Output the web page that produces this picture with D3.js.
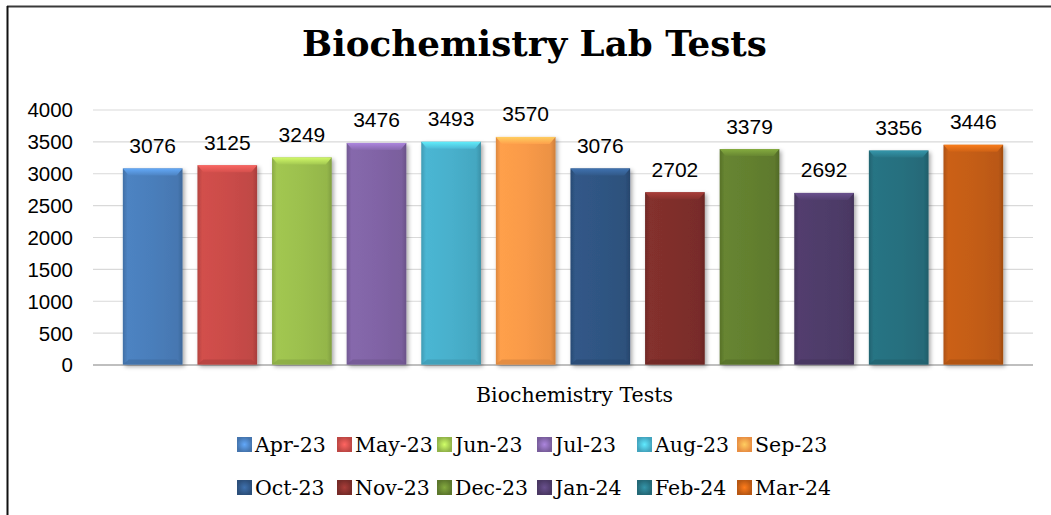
<!DOCTYPE html>
<html><head><meta charset="utf-8">
<script src="https://cdn.jsdelivr.net/npm/d3@7"></script>
<style>html,body{margin:0;padding:0;background:#fff;}svg{display:block;}</style>
</head><body>
<svg id="chart" width="1051" height="515"></svg>
<script>
const categories = ["Biochemistry Tests"];
const months = ["Apr-23","May-23","Jun-23","Jul-23","Aug-23","Sep-23","Oct-23","Nov-23","Dec-23","Jan-24","Feb-24","Mar-24"];
const values = [3076,3125,3249,3476,3493,3570,3076,2702,3379,2692,3356,3446];
const colors = ["#4a7ebb","#cb4c49","#9cc04e","#8164a6","#48b0cc","#f99a48","#2f5583","#7f2e2b","#63802f","#4f3c6a","#27707f","#c45d14"];
const yTicks = [0,500,1000,1500,2000,2500,3000,3500,4000];
const title = "Biochemistry Lab Tests";

const svg = d3.select("#chart");
const W = 1051, H = 515;
const plot = {left: 93, right: 1033, top: 109.5, bottom: 364.5};

const defs = svg.append("defs");
const f = defs.append("filter").attr("id","shadow").attr("x","-20%").attr("y","-20%").attr("width","140%").attr("height","140%");
f.append("feDropShadow").attr("dx",2).attr("dy",2).attr("stdDeviation",2.2).attr("flood-color","#000").attr("flood-opacity",0.35);

colors.forEach((c,i)=>{
  const base = d3.color(c);
  const g = defs.append("linearGradient").attr("id","g"+i).attr("x1","0").attr("x2","1").attr("y1","0").attr("y2","0");
  g.append("stop").attr("offset","0%").attr("stop-color", base.darker(0.35));
  g.append("stop").attr("offset","8%").attr("stop-color", base.brighter(0.1));
  g.append("stop").attr("offset","50%").attr("stop-color", base);
  g.append("stop").attr("offset","92%").attr("stop-color", base.darker(0.15));
  g.append("stop").attr("offset","100%").attr("stop-color", base.darker(0.55));
  const t = defs.append("linearGradient").attr("id","t"+i).attr("x1","0").attr("x2","0").attr("y1","0").attr("y2","1");
  t.append("stop").attr("offset","0%").attr("stop-color", base.brighter(0.9));
  t.append("stop").attr("offset","100%").attr("stop-color", base.brighter(0.15));
  const s = defs.append("radialGradient").attr("id","s"+i);
  s.append("stop").attr("offset","0%").attr("stop-color", base.brighter(0.8));
  s.append("stop").attr("offset","100%").attr("stop-color", base.darker(0.2));
});

svg.append("rect").attr("width",W).attr("height",H).attr("fill","#fff");
// frame
svg.append("line").attr("x1",7).attr("x2",W).attr("y1",6.5).attr("y2",6.5).attr("stroke","#3a3a3a").attr("stroke-width",2);
svg.append("line").attr("x1",7.5).attr("x2",7.5).attr("y1",6).attr("y2",H).attr("stroke","#111").attr("stroke-width",2);

// title
const tt = svg.append("text").attr("x",534.5).attr("y",56).attr("text-anchor","middle")
  .attr("font-family","DejaVu Serif").attr("font-weight","bold").attr("font-size",30).attr("fill","#000").text(title);
const tl = tt.node().getComputedTextLength();
tt.attr("font-size", 30*465/tl);

const y = d3.scaleLinear().domain([0,4000]).range([plot.bottom, plot.top]);
const x0 = d3.scaleBand().domain(categories).range([plot.left, plot.right]).paddingOuter(0.025).paddingInner(0);
const x1 = d3.scaleBand().domain(months).range([0, x0.bandwidth()]).paddingInner(0.2).paddingOuter(0.1);

// grid
const yAxis = d3.axisLeft(y).tickValues(yTicks).tickSize(-(plot.right-plot.left)).tickFormat(d3.format("d")).tickPadding(20);
const ga = svg.append("g").attr("transform",`translate(${plot.left},0)`).call(yAxis);
ga.select(".domain").remove();
ga.selectAll(".tick line").attr("stroke","#d9d9d9").attr("stroke-width",1.2);
ga.selectAll(".tick text").attr("font-family","Liberation Sans, Arial").attr("font-size",20.5).attr("fill","#000").attr("dy","0.36em");
ga.selectAll(".tick").filter(d=>d===0).select("line").attr("stroke","#bfbfbf").attr("stroke-width",2);

// bars
const cat = svg.append("g").attr("transform",`translate(${x0(categories[0])},0)`);
const bars = cat.selectAll("g.bar").data(months.map((m,i)=>({m,v:values[i],i}))).join("g").attr("class","bar");
bars.append("rect").attr("x",d=>x1(d.m)).attr("y",d=>y(d.v)).attr("width",x1.bandwidth()).attr("height",d=>y(0)-y(d.v))
  .attr("fill",d=>`url(#g${d.i})`).attr("filter","url(#shadow)");
bars.append("path").attr("d",d=>{
  const xl=x1(d.m), xr=xl+x1.bandwidth(), t=y(d.v), h=7;
  return `M${xl},${t} L${xr},${t} L${xr-6},${t+h} L${xl+6},${t+h} Z`;
}).attr("fill",d=>`url(#t${d.i})`).attr("opacity",0.9);
bars.append("path").attr("d",d=>{
  const xl=x1(d.m), xr=xl+x1.bandwidth(), b=y(0), h=5;
  return `M${xl},${b} L${xr},${b} L${xr-6},${b-h} L${xl+6},${b-h} Z`;
}).attr("fill",d=>d3.color(colors[d.i]).darker(0.4)).attr("opacity",0.7);
bars.append("text").attr("x",d=>x1(d.m)+x1.bandwidth()/2).attr("y",d=>y(d.v)-15.5).attr("text-anchor","middle")
  .attr("font-family","Liberation Sans, Arial").attr("font-size",21).attr("fill","#000").text(d=>d.v);

// axis title
svg.append("text").attr("x",574.5).attr("y",402).attr("text-anchor","middle")
  .attr("font-family","DejaVu Serif").attr("font-size",20.5).attr("fill","#000").text(categories[0]);

// legend
const lx = d3.scalePoint().domain(d3.range(6)).range([237, 737]);
const rowY = [452, 495];
const lg = svg.append("g").selectAll("g").data(months.map((m,i)=>({m,i}))).join("g")
  .attr("transform",d=>`translate(${lx(d.i%6)},${rowY[Math.floor(d.i/6)]})`);
lg.append("rect").attr("x",0).attr("y",-15).attr("width",15).attr("height",15).attr("fill",d=>`url(#s${d.i})`);
lg.append("text").attr("x",18).attr("y",0).attr("font-family","DejaVu Serif").attr("font-size",20.5).attr("fill","#000").text(d=>d.m);
</script>
</body></html>
